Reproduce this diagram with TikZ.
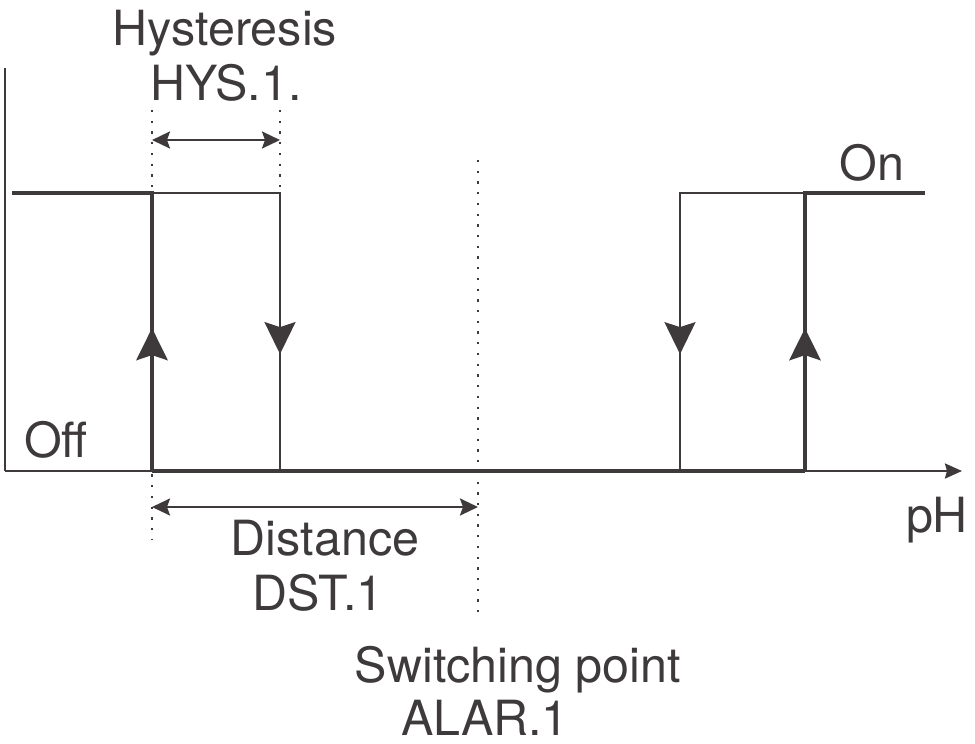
\documentclass[tikz,border=0pt]{standalone}
\usepackage{fontspec}
\setmainfont{TeX Gyre Heros}
\usetikzlibrary{arrows.meta,decorations.markings}
\definecolor{ink}{RGB}{62,58,60}

\begin{document}
\begin{tikzpicture}[
  x=0.02cm, y=-0.02cm,
  font=\fontsize{27.6}{33}\selectfont,
  lbl/.style={anchor=base, inner sep=0pt, text=ink},
  thinline/.style={draw=ink, color=ink, line width=1.4pt},
  boldline/.style={draw=ink, color=ink, line width=2.8pt},
  guide/.style={draw=ink, line width=1.3pt, dash pattern=on 1.3pt off 4.8pt},
  dim/.style={thinline, {Stealth[length=0.36cm,width=0.34cm,inset=0.06cm]}-{Stealth[length=0.36cm,width=0.34cm,inset=0.06cm]}},
  flow/.style={postaction={decorate}, decoration={markings,
    mark=at position #1 with {\arrow{Stealth[length=0.64cm,width=0.62cm,inset=0.1cm]}}}},
  >=Stealth
]
\useasboundingbox (0,0) rectangle (975,744);

% axes
\coordinate (ytop) at (5,68);
\coordinate (orig) at (5,471);
\coordinate (xend) at (962,471);
\draw[thinline] (ytop) -- (orig);
\draw[thinline, -{Stealth[length=0.34cm,width=0.3cm,inset=0.04cm]}] (orig) -- (xend);

% switching levels
\coordinate (offl) at (152,471);
\coordinate (offr) at (805,471);
\coordinate (onl) at (12,193);
\coordinate (onr) at (925,193);
\coordinate (upa) at (152,193);
\coordinate (dna) at (280,193);
\coordinate (dnb) at (680,193);
\coordinate (upb) at (805,193);

\draw[thinline, flow=0.712] (upa) -- (dna) -- (280,471);
\draw[thinline, flow=0.71] (upb) -- (dnb) -- (680,471);
\draw[boldline] (offl) -- (offr);
\draw[boldline, flow=0.342] (offl) -- (upa) -- (onl);
\draw[boldline, flow=0.359] (offr) -- (upb) -- (onr);

% guides
\draw[guide] (152,110) -- (152,540);
\draw[guide] (280,110) -- (dna);
\draw[guide] (478,160) -- (478,620);
\draw[dim] (152,140) -- (280,140);
\draw[dim] (152,507) -- (478,507);

% labels
\node[lbl] (hys) at (225,45) {Hysteresis};
\node[lbl] (hysid) at (226,100) {HYS.1.};
\node[lbl] (on) at (872,180) {On};
\node[lbl] (off) at (56,457) {Off};
\node[lbl] (ph) at (937,532) {pH};
\node[lbl] (dist) at (325,555) {Distance};
\node[lbl] (distid) at (318,610) {DST.1};
\node[lbl] (sw) at (518,682) {Switching point};
\node[lbl] (swid) at (485,735) {ALAR.1};
\end{tikzpicture}
\end{document}
